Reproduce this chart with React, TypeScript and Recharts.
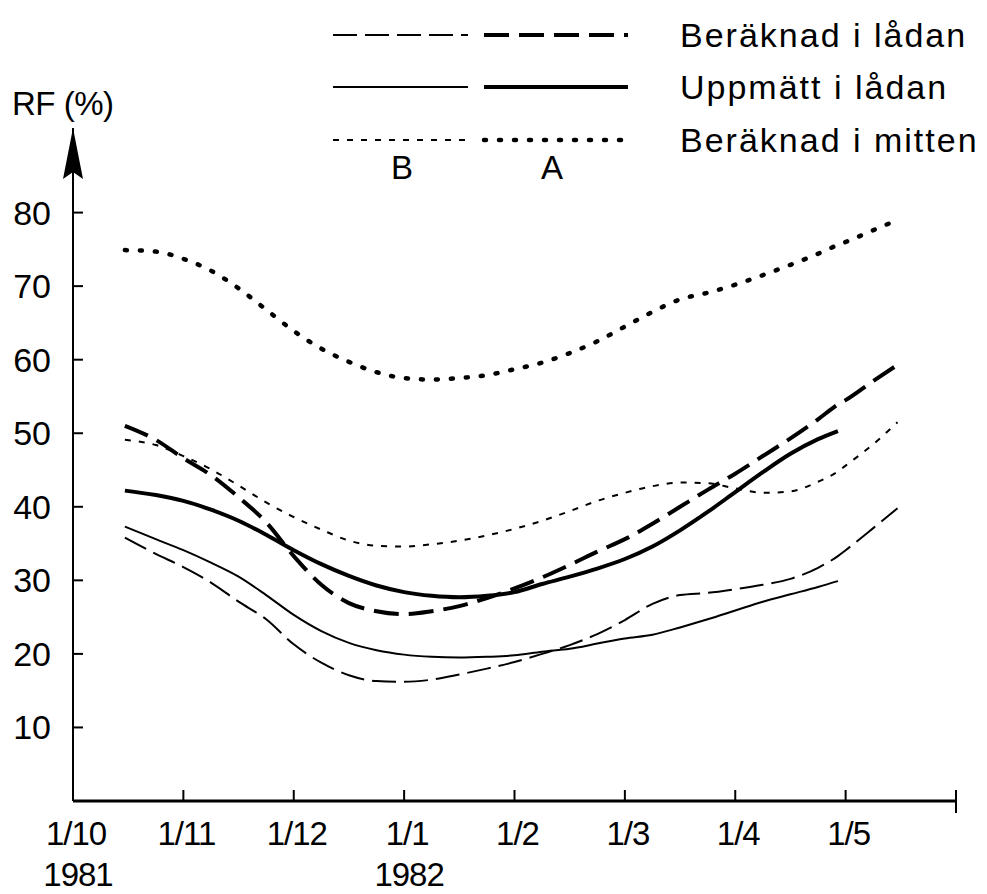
import { LineChart, Line, XAxis, YAxis } from 'recharts';

// months after 1 Oct 1981 (0 = 1/10 1981, 3 = 1/1 1982)
const months = [0.47, 0.75, 1, 1.25, 1.5, 1.75, 2, 2.25, 2.5, 2.75, 3, 3.25, 3.5, 3.75, 4, 4.25, 4.5, 4.75, 5, 5.25, 5.5, 5.75, 6, 6.25, 6.5, 6.75, 6.93, 7, 7.25, 7.47];

// RF (%)
const beraknadLadanA = [51.0, 49.1, 46.6, 44.3, 41.3, 37.9, 33.3, 29.4, 26.9, 25.8, 25.4, 25.8, 26.5, 27.6, 28.9, 30.4, 32.1, 33.9, 35.6, 37.7, 40.0, 42.3, 44.5, 46.9, 49.3, 51.9, 53.9, 54.5, 57.1, 59.3];
const beraknadLadanB = [35.8, 33.6, 31.8, 29.7, 27.1, 24.7, 21.3, 18.8, 17.1, 16.3, 16.2, 16.5, 17.2, 18.0, 18.9, 20.0, 21.2, 22.7, 24.6, 26.8, 28.0, 28.3, 28.8, 29.4, 30.2, 31.7, 33.3, 34.1, 37.1, 39.8];
const uppmattLadanA = [42.2, 41.6, 40.8, 39.6, 38.1, 36.2, 34.1, 32.2, 30.6, 29.3, 28.4, 27.9, 27.7, 27.9, 28.4, 29.5, 30.5, 31.6, 32.9, 34.6, 36.8, 39.3, 42.0, 44.7, 47.2, 49.2, 50.3, null, null, null];
const uppmattLadanB = [37.3, 35.6, 34.1, 32.4, 30.5, 28.0, 25.3, 23.1, 21.5, 20.5, 19.9, 19.6, 19.5, 19.6, 19.8, 20.3, 20.7, 21.4, 22.1, 22.6, 23.6, 24.7, 25.9, 27.1, 28.1, 29.1, 29.9, null, null, null];
const beraknadMittenA = [74.9, 74.7, 73.7, 72.1, 69.7, 66.8, 63.9, 61.5, 59.7, 58.3, 57.5, 57.3, 57.5, 57.9, 58.7, 59.6, 60.9, 62.5, 64.5, 66.5, 68.2, 69.1, 70.2, 71.5, 72.9, 74.4, 75.6, 76.0, 77.6, 79.0];
const beraknadMittenB = [49.1, 48.4, 46.9, 45.1, 42.9, 40.6, 38.6, 36.9, 35.4, 34.7, 34.6, 34.9, 35.4, 36.1, 37.0, 38.1, 39.4, 40.8, 41.9, 42.8, 43.3, 43.2, 42.5, 41.9, 42.1, 43.4, 44.8, 45.6, 48.5, 51.5];

const monthTicks = [0, 1, 2, 3, 4, 5, 6, 7, 8];
const monthLabels = ['1/10', '1/11', '1/12', '1/1', '1/2', '1/3', '1/4', '1/5', ''];
const yearLabels = ['1981', '', '', '1982', '', '', '', '', ''];
const rfTicks = [10, 20, 30, 40, 50, 60, 70, 80];
const legendLabels = ['Beräknad i lådan', 'Uppmätt i lådan', 'Beräknad i mitten'];
const caseLabels = ['B', 'A'];

const rows = months.map((m, i) => ({
  month: m,
  ladanA: beraknadLadanA[i],
  ladanB: beraknadLadanB[i],
  uppA: uppmattLadanA[i],
  uppB: uppmattLadanB[i],
  mittenA: beraknadMittenA[i],
  mittenB: beraknadMittenB[i],
}));

const FONT = '"Liberation Sans", Arial, sans-serif';

const thickDash = '25 10';
const thinDash = '24 8';
const thickDot = '2 13';
const thinDot = '6 8';

function MonthTick(props: any) {
  const { x, y, payload } = props;
  const i = monthTicks.indexOf(payload.value);
  const last = i === monthTicks.length - 1;
  return (
    <g>
      {i > 0 && (
        <line x1={x} x2={x} y1={last ? y + 12 : y} y2={y - 11} stroke="#000" strokeWidth={2} />
      )}
      <text x={x + 3} y={y + 44} textAnchor="middle" fontSize={33} fontFamily={FONT} letterSpacing={-1} fill="#000">
        {monthLabels[i]}
      </text>
      <text x={x + 5} y={y + 85} textAnchor="middle" fontSize={33} fontFamily={FONT} letterSpacing={-1} fill="#000">
        {yearLabels[i]}
      </text>
    </g>
  );
}

function RfTick(props: any) {
  const { x, y, payload } = props;
  return (
    <g>
      <line x1={x} x2={x + 10} y1={y} y2={y} stroke="#000" strokeWidth={2} />
      <text x={x - 22} y={y + 12} textAnchor="end" fontSize={34} fontFamily={FONT} fill="#000">
        {payload.value}
      </text>
    </g>
  );
}

function Overlay() {
  const rowsY = [35, 87, 140];
  const styles = [
    { b: { w: 2, d: thinDash }, a: { w: 4, d: thickDash } },
    { b: { w: 2, d: undefined }, a: { w: 4, d: undefined } },
    { b: { w: 2, d: thinDot }, a: { w: 4.5, d: thickDot } },
  ];
  return (
    <svg width={987} height={894} style={{ position: 'absolute', left: 0, top: 0, pointerEvents: 'none' }}>
      <text x={12} y={115} fontSize={33} fontFamily={FONT} letterSpacing={-0.5} fill="#000">RF (%)</text>
      <polygon points="73,128 83,179 73,172 63,179" fill="#000" />
      {legendLabels.map((label, r) => (
        <g key={label}>
          <line x1={333} x2={468} y1={rowsY[r]} y2={rowsY[r]} stroke="#000" strokeWidth={styles[r].b.w} strokeDasharray={styles[r].b.d} />
          <line x1={484} x2={628} y1={rowsY[r]} y2={rowsY[r]} stroke="#000" strokeWidth={styles[r].a.w} strokeDasharray={styles[r].a.d} strokeLinecap={r === 2 ? 'round' : 'butt'} />
          <text x={680} y={rowsY[r] + 12} fontSize={34} fontFamily={FONT} letterSpacing={2} fill="#000">
            {label}
          </text>
        </g>
      ))}
      <text x={402} y={179} textAnchor="middle" fontSize={33} fontFamily={FONT} fill="#000">{caseLabels[0]}</text>
      <text x={552} y={179} textAnchor="middle" fontSize={33} fontFamily={FONT} fill="#000">{caseLabels[1]}</text>
    </svg>
  );
}

export default function App() {
  return (
    <div style={{ position: 'absolute', left: 0, top: 0, width: 987, height: 894, background: '#fff' }}>
      <LineChart width={987} height={894} data={rows} margin={{ top: 128, right: 31, bottom: 0, left: 0 }}>
        <XAxis
          dataKey="month"
          type="number"
          domain={[0, 8]}
          ticks={monthTicks}
          interval={0}
          height={93}
          tickSize={0}
          tickMargin={0}
          tickLine={false}
          axisLine={{ stroke: '#000', strokeWidth: 3 }}
          tick={<MonthTick />}
        />
        <YAxis
          type="number"
          domain={[0, 91.5]}
          ticks={rfTicks}
          interval={0}
          width={73}
          tickSize={0}
          tickMargin={0}
          tickLine={false}
          axisLine={{ stroke: '#000', strokeWidth: 2 }}
          tick={<RfTick />}
        />
        <Line dataKey="mittenA" type="monotone" stroke="#000" strokeWidth={4.5} strokeDasharray={thickDot} strokeLinecap="round" dot={false} isAnimationActive={false} />
        <Line dataKey="mittenB" type="monotone" stroke="#000" strokeWidth={2} strokeDasharray={thinDot} dot={false} isAnimationActive={false} />
        <Line dataKey="ladanA" type="monotone" stroke="#000" strokeWidth={4} strokeDasharray={thickDash} dot={false} isAnimationActive={false} />
        <Line dataKey="ladanB" type="monotone" stroke="#000" strokeWidth={2} strokeDasharray={thinDash} dot={false} isAnimationActive={false} />
        <Line dataKey="uppA" type="monotone" stroke="#000" strokeWidth={4} dot={false} isAnimationActive={false} />
        <Line dataKey="uppB" type="monotone" stroke="#000" strokeWidth={2} dot={false} isAnimationActive={false} />
      </LineChart>
      <Overlay />
    </div>
  );
}
